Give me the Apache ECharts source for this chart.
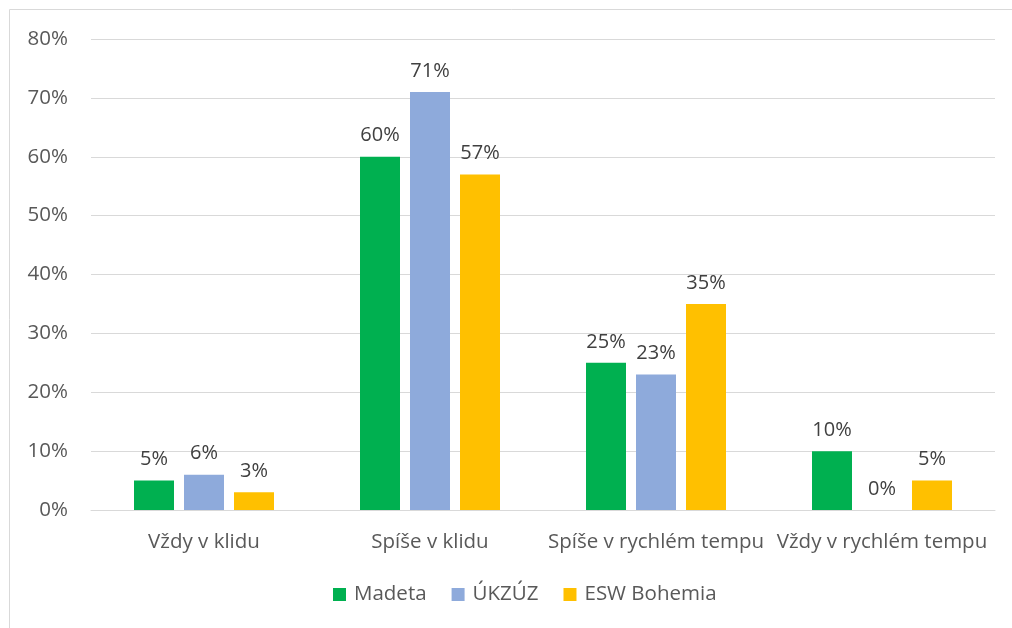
<!DOCTYPE html>
<html>
<head>
<meta charset="utf-8">
<script src="https://cdn.jsdelivr.net/npm/echarts@6/dist/echarts.min.js"></script>
<style>
  html, body { margin: 0; padding: 0; background: #fff; }
  #chart { width: 1012px; height: 628px; }
</style>
</head>
<body>
<div id="chart"></div>
<script>
const categories = ['Vždy v klidu', 'Spíše v klidu', 'Spíše v rychlém tempu', 'Vždy v rychlém tempu'];
const madeta = [5, 60, 25, 10];
const ukzuz = [6, 71, 23, 0];
const esw = [3, 57, 35, 5];

const font = '"Open Sans", "Noto Sans", sans-serif';

const label = {
    show: true,
    position: 'top',
    distance: 11,
    fontFamily: font,
    fontSize: 20,
    color: '#404040',
    formatter: p => p.value + '%'
};

const chart = echarts.init(document.getElementById('chart'));

chart.setOption({
    animation: false,
    textStyle: { fontFamily: font },
    graphic: [{
        type: 'rect',
        shape: { x: 9.5, y: 9.5, width: 1020, height: 640 },
        style: { fill: 'none', stroke: '#d9d9d9', lineWidth: 1 },
        silent: true
    }],
    grid: { left: 91, right: 17, top: 39, bottom: 118, containLabel: false },
    legend: {
        left: 328,
        bottom: 18,
        itemWidth: 13,
        itemHeight: 13,
        itemGap: 25,
        icon: 'rect',
        textStyle: { fontFamily: font, fontSize: 20.5, color: '#595959', padding: [0, 0, 0, 3] },
        data: ['Madeta', 'ÚKZÚZ', 'ESW Bohemia']
    },
    xAxis: {
        type: 'category',
        data: categories,
        axisLine: { lineStyle: { color: '#d9d9d9', width: 1 } },
        axisTick: { show: false },
        axisLabel: { fontFamily: font, fontSize: 20.5, color: '#595959', margin: 22, interval: 0 }
    },
    yAxis: {
        type: 'value',
        min: 0,
        max: 80,
        interval: 10,
        axisLine: { show: false },
        axisTick: { show: false },
        splitLine: { lineStyle: { color: '#d9d9d9', width: 1 } },
        axisLabel: { fontFamily: font, fontSize: 20.5, color: '#595959', margin: 23, formatter: '{value}%' }
    },
    series: [
        { name: 'Madeta', type: 'bar', data: madeta, barWidth: 40, barGap: '25%', itemStyle: { color: '#00b050' }, label },
        { name: 'ÚKZÚZ', type: 'bar', data: ukzuz, barWidth: 40, barGap: '25%', itemStyle: { color: '#8eaadb' }, label },
        { name: 'ESW Bohemia', type: 'bar', data: esw, barWidth: 40, barGap: '25%', itemStyle: { color: '#ffc000' }, label }
    ]
});
</script>
</body>
</html>
